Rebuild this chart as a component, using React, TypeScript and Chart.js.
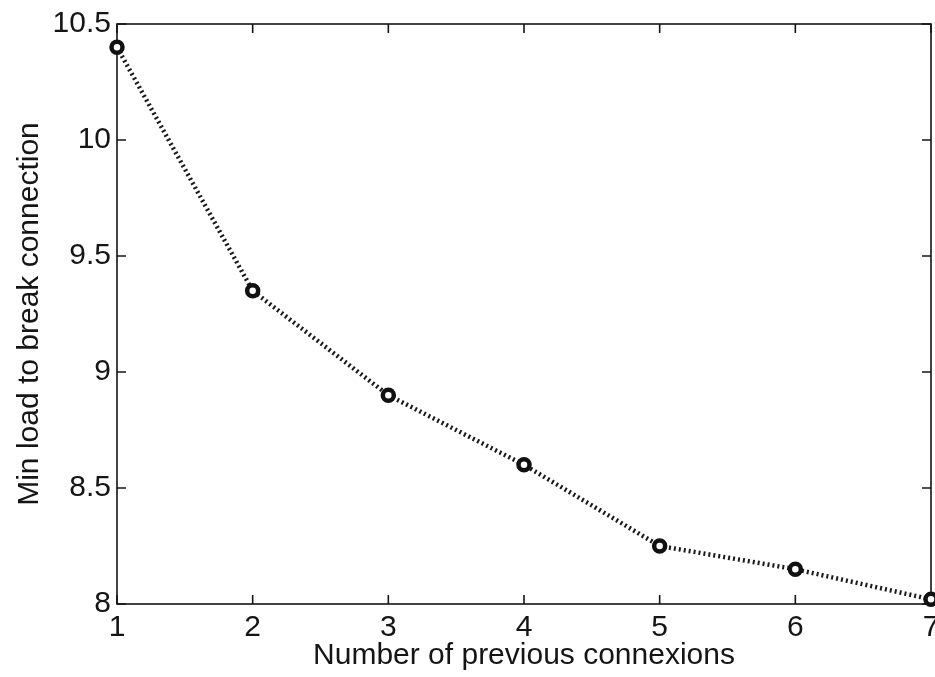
import React, { useEffect, useRef } from "react";
import { Chart, registerables } from "chart.js";

Chart.register(...registerables);

const connexions = [1, 2, 3, 4, 5, 6, 7];
const minLoad = [10.4, 9.35, 8.9, 8.6, 8.25, 8.15, 8.02];
const xTicks = [1, 2, 3, 4, 5, 6, 7];
const yTicks = [8, 8.5, 9, 9.5, 10, 10.5];
const xTitle = "Number of previous connexions";
const yTitle = "Min load to break connection";

const FONT = { family: "'Liberation Sans', Arial, sans-serif", size: 30 };
const INK = "#151515";

const matlabBox = {
  id: "matlabBox",
  beforeDatasetsDraw(chart: any) {
    const { ctx, chartArea: a, scales } = chart;
    ctx.save();
    ctx.strokeStyle = INK;
    ctx.lineWidth = 1.6;
    ctx.strokeRect(a.left, a.top, a.right - a.left, a.bottom - a.top);
    const L = 9;
    ctx.beginPath();
    for (const v of xTicks) {
      const x = scales.x.getPixelForValue(v);
      ctx.moveTo(x, a.bottom);
      ctx.lineTo(x, a.bottom - L);
      ctx.moveTo(x, a.top);
      ctx.lineTo(x, a.top + L);
    }
    for (const v of yTicks) {
      const y = scales.y.getPixelForValue(v);
      ctx.moveTo(a.left, y);
      ctx.lineTo(a.left + L, y);
      ctx.moveTo(a.right, y);
      ctx.lineTo(a.right - L, y);
    }
    ctx.stroke();
    ctx.restore();
  },
};

export default function App() {
  const ref = useRef<HTMLCanvasElement>(null);

  useEffect(() => {
    if (!ref.current) return;
    const chart = new Chart(ref.current, {
      type: "line",
      data: {
        datasets: [
          {
            data: connexions.map((x, i) => ({ x, y: minLoad[i] })),
            borderColor: "#1a1a1a",
            borderWidth: 4.5,
            borderDash: [2, 3],
            pointStyle: "circle",
            pointRadius: 5.5,
            pointBorderWidth: 4.5,
            pointBorderColor: "#111111",
            pointBackgroundColor: "#ffffff",
            tension: 0,
            fill: false,
            clip: false as any,
          },
        ],
      },
      options: {
        responsive: false,
        animation: false,
        devicePixelRatio: 1,
        layout: { padding: { left: 0, top: 22, right: 19, bottom: 0 } },
        plugins: {
          legend: { display: false },
          tooltip: { enabled: false },
        },
        scales: {
          x: {
            type: "linear",
            min: 1,
            max: 7,
            afterBuildTicks: (s: any) => {
              s.ticks = xTicks.map((v) => ({ value: v }));
            },
            afterFit: (s: any) => {
              s.height = 73;
            },
            grid: { display: false, drawTicks: false },
            border: { display: false },
            ticks: {
              autoSkip: false,
              maxRotation: 0,
              padding: 6,
              color: INK,
              font: FONT,
              callback: (v: any) => String(v),
            },
            title: {
              display: true,
              text: xTitle,
              color: INK,
              font: FONT,
              padding: { top: 0, bottom: 3 },
            },
          },
          y: {
            type: "linear",
            min: 8,
            max: 10.5,
            afterBuildTicks: (s: any) => {
              s.ticks = yTicks.map((v) => ({ value: v }));
            },
            afterFit: (s: any) => {
              s.width = 117;
            },
            grid: { display: false, drawTicks: false },
            border: { display: false },
            ticks: {
              autoSkip: false,
              padding: 6,
              color: INK,
              font: FONT,
              callback: (v: any) => String(v),
            },
            title: {
              display: true,
              text: yTitle,
              color: INK,
              font: FONT,
              padding: { top: 12, bottom: 0 },
            },
          },
        },
      },
      plugins: [matlabBox],
    });
    return () => chart.destroy();
  }, []);

  return (
    <div
      style={{
        position: "absolute",
        left: 0,
        top: 0,
        width: 935,
        height: 677,
        overflow: "hidden",
        background: "#ffffff",
      }}
    >
      <canvas ref={ref} width={950} height={677} style={{ display: "block" }} />
    </div>
  );
}
